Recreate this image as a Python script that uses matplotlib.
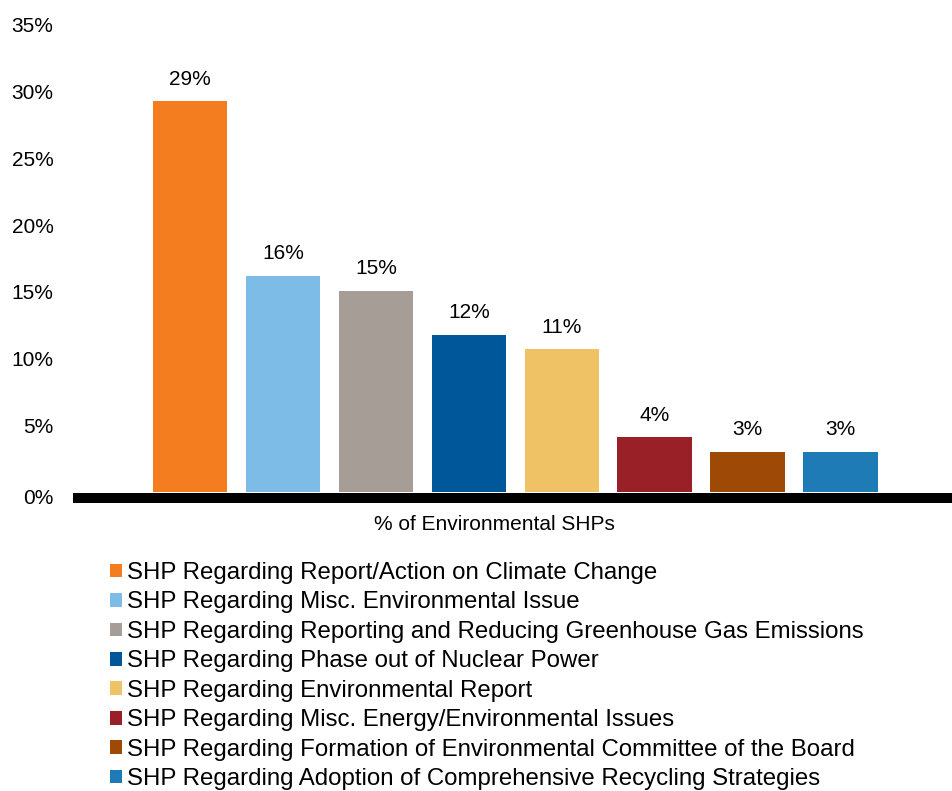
import matplotlib
matplotlib.use("Agg")
import matplotlib.pyplot as plt
import matplotlib.transforms as mtransforms

categories = [
    "SHP Regarding Report/Action on Climate Change",
    "SHP Regarding Misc. Environmental Issue",
    "SHP Regarding Reporting and Reducing Greenhouse Gas Emissions",
    "SHP Regarding Phase out of Nuclear Power",
    "SHP Regarding Environmental Report",
    "SHP Regarding Misc. Energy/Environmental Issues",
    "SHP Regarding Formation of Environmental Committee of the Board",
    "SHP Regarding Adoption of Comprehensive Recycling Strategies",
]
values = [29.3, 16.2, 15.1, 11.8, 10.7, 4.1, 3.0, 3.0]
value_labels = ["29%", "16%", "15%", "12%", "11%", "4%", "3%", "3%"]
colors = ["#F47D20", "#7CBCE7", "#A59D96", "#00579A", "#F0C266", "#9A2027", "#9E4A06", "#1F7BB6"]
y_ticks = [0, 5, 10, 15, 20, 25, 30, 35]
y_tick_labels = ["0%", "5%", "10%", "15%", "20%", "25%", "30%", "35%"]
x_label = "% of Environmental SHPs"

plt.rcParams['font.family'] = ['Liberation Sans', 'DejaVu Sans']

W, H = 952, 791
fig = plt.figure(figsize=(W / 100, H / 100), dpi=100)
ax = fig.add_axes([73 / W, (H - 492) / H, (W - 73) / W, (492 - 25) / H])

xs = list(range(len(values)))
bars = ax.bar(xs, values, width=0.8, color=colors, label=categories, zorder=2)
for x, v, lab in zip(xs, values, value_labels):
    ax.annotate(lab, (x, v), xytext=(0, 9), textcoords="offset points",
                ha="center", va="bottom", fontsize=15, color="#000000")

ax.set_xlim(-1.26, 8.2)
ax.set_ylim(0, 35)
ax.set_yticks(y_ticks)
ax.set_yticklabels(y_tick_labels, fontsize=15)
ax.tick_params(axis="y", length=0, pad=14)
ax.set_xticks([])
for s in ["top", "right", "left"]:
    ax.spines[s].set_visible(False)
ax.spines["bottom"].set_position(("outward", 4.3))
ax.spines["bottom"].set_linewidth(7.2)
ax.spines["bottom"].set_color("#000000")
ax.spines["bottom"].set_capstyle("butt")

# shift 0% label down slightly as in reference
lbl0 = ax.get_yticklabels()[0]
lbl0.set_transform(lbl0.get_transform() + mtransforms.ScaledTranslation(0, -5 / 100, fig.dpi_scale_trans))

fig.text(494 / W, 1 - 524 / H, x_label, ha="center", va="center", fontsize=15)

leg = fig.legend(handles=bars.patches, labels=categories, loc="upper left",
                 bbox_to_anchor=(110 / W, 1 - 562 / H), frameon=False,
                 fontsize=17.3, handlelength=0.5, handleheight=0.5,
                 handletextpad=0.2, labelspacing=0.31, borderpad=0, borderaxespad=0)

fig.savefig("out.png", dpi=100)
